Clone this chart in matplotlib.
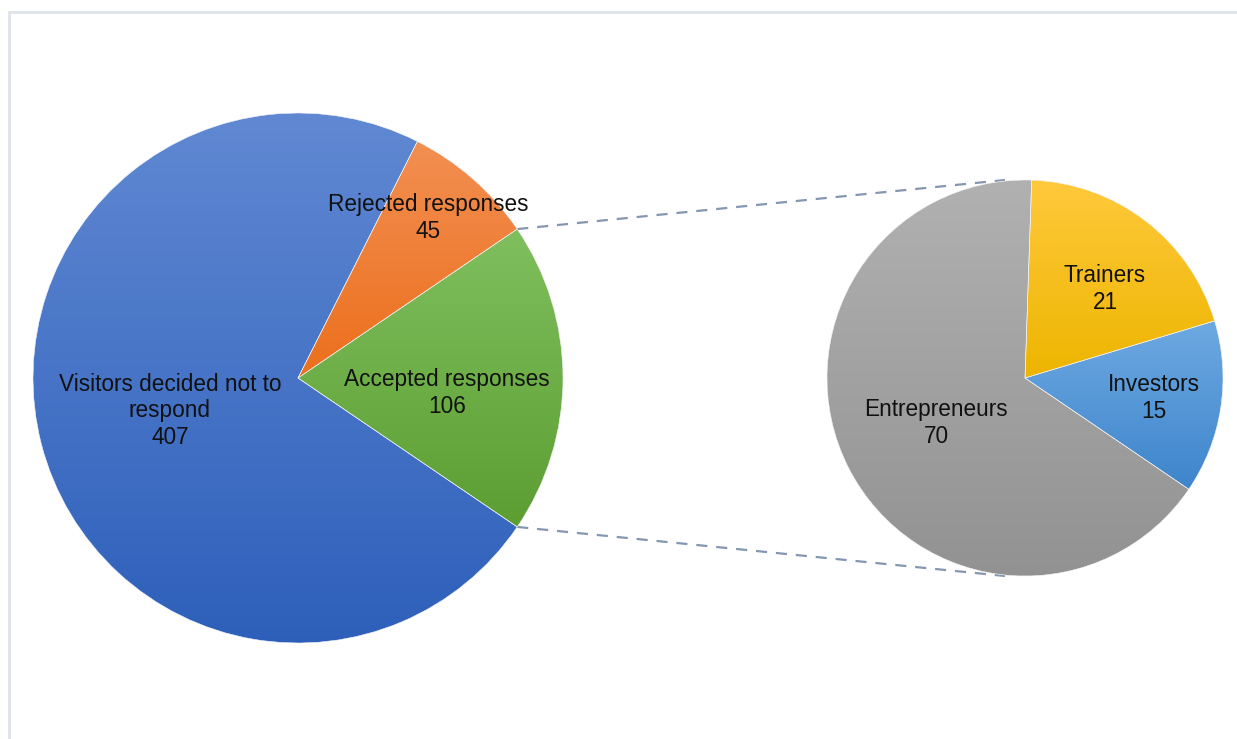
import numpy as np
import matplotlib
matplotlib.use("Agg")
import matplotlib.pyplot as plt
from matplotlib.colors import LinearSegmentedColormap
from matplotlib.patches import Rectangle

plt.rcParams['font.family'] = ['Liberation Sans', 'DejaVu Sans']

# Main pie: survey outcome
main_labels = ["Accepted responses", "Rejected responses", "Visitors decided not to\nrespond"]
main_values = [106, 45, 407]
main_top = ["#7fbf5e", "#f28f52", "#6189d3"]
main_bottom = ["#5c9e32", "#ec6f1c", "#2d5fba"]

# Secondary pie: breakdown of accepted responses
sub_labels = ["Investors", "Trainers", "Entrepreneurs"]
sub_values = [15, 21, 70]
sub_top = ["#6ea9e2", "#ffc93c", "#b1b1b1"]
sub_bottom = ["#3e85cc", "#edb500", "#929292"]

W, H = 1237, 739
fig = plt.figure(figsize=(W / 100, H / 100), dpi=100)
ax = fig.add_axes([0, 0, 1, 1])

c1, r1 = (298, H - 378), 265
c2, r2 = (1025, H - 378), 198
start = -main_values[0] / sum(main_values) * 180


def gradient_pie(values, center, radius, tops, bottoms):
    wedges, _ = ax.pie(values, center=center, radius=radius, startangle=start,
                       counterclock=True, frame=True,
                       wedgeprops=dict(facecolor="none", edgecolor="#f4f4f4",
                                       linewidth=0.4, zorder=3))
    for w, ct, cb in zip(wedges, tops, bottoms):
        v = w.get_path().vertices
        x0, x1 = v[:, 0].min(), v[:, 0].max()
        y0, y1 = v[:, 1].min(), v[:, 1].max()
        cmap = LinearSegmentedColormap.from_list("g", [cb, ct])
        grad = np.linspace(0, 1, 256).reshape(-1, 1)
        im = ax.imshow(grad, cmap=cmap, extent=(x0, x1, y0, y1), origin="lower",
                       aspect="auto", interpolation="bilinear", zorder=2)
        im.set_clip_path(w)
    return wedges


gradient_pie(main_values, c1, r1, main_top, main_bottom)
gradient_pie(sub_values, c2, r2, sub_top, sub_bottom)

# Connector lines between the accepted slice and the secondary pie
half = np.deg2rad(main_values[0] / sum(main_values) * 180)
for s in (1, -1):
    x_a = c1[0] + r1 * np.cos(half)
    y_a = c1[1] + s * r1 * np.sin(half)
    ax.plot([x_a, c2[0] - 20], [y_a, c2[1] + s * r2], ls=(0, (5, 4)),
            color="#8597b0", lw=1.6, zorder=1)

fs = 16.3
text_kw = dict(ha="center", va="center", fontsize=fs, color="#111111",
               linespacing=1.2, zorder=5)
label_pos_main = [(447, 393), (428, 218), (170, 411)]
for lab, val, (x, y) in zip(main_labels, main_values, label_pos_main):
    ax.text(x, H - y, f"{lab}\n{val}", **text_kw)

label_pos_sub = [(1154, 398), (1105, 289), (936, 423)]
for lab, val, (x, y) in zip(sub_labels, sub_values, label_pos_sub):
    ax.text(x, H - y, f"{lab}\n{val}", **text_kw)

# Chart area border
ax.add_patch(Rectangle((9, -30), 1300, H - 12 + 30, fill=False,
                       edgecolor="#dfe4ea", linewidth=2, zorder=0))

ax.set_xlim(0, W)
ax.set_ylim(0, H)
ax.set_aspect("equal")
ax.axis("off")

fig.savefig("out.png", dpi=100)
